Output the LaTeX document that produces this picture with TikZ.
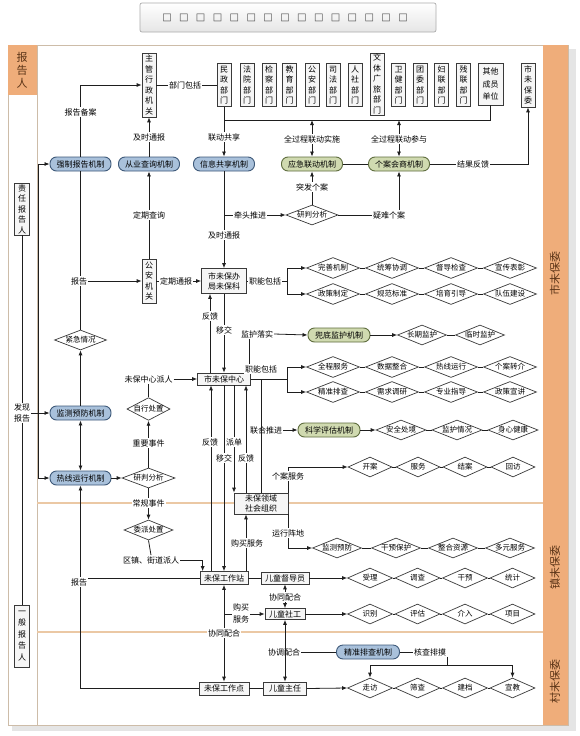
\documentclass[tikz,border=0pt]{standalone}
\usepackage{fontspec}
\setmainfont{Noto Sans CJK SC}
\newfontfamily\dejavu{DejaVu Sans}
\usetikzlibrary{arrows.meta,shapes.geometric,calc}
\definecolor{orng}{HTML}{EFAD7A}
\definecolor{orngtxt}{HTML}{5B3417}
\definecolor{bluef}{HTML}{A9C1DB}
\definecolor{blued}{HTML}{3D5878}
\definecolor{greenf}{HTML}{D0DAB0}
\definecolor{greend}{HTML}{5E6C3E}
\definecolor{sepc}{HTML}{EBC8A4}
\definecolor{bordc}{HTML}{CDBCA8}
\definecolor{linec}{HTML}{1E1E1E}
\definecolor{boxd}{HTML}{3A3A3A}
\begin{document}
\begin{tikzpicture}[x=1pt,y=-1pt,
  vb/.style={draw=boxd, fill=gray!7, line width=0.7pt, inner sep=0pt, align=center, minimum width=14pt, font=\fontsize{8}{10.5}\selectfont},
  hb/.style={draw=boxd, fill=gray!7, line width=0.7pt, inner sep=0pt, align=center, font=\fontsize{8}{10}\selectfont},
  mechb/.style={rounded corners=6.5pt, draw=blued, fill=bluef, line width=0.9pt, minimum width=61pt, minimum height=14pt, inner sep=0pt, font=\fontsize{8}{10}\selectfont},
  mechg/.style={mechb, draw=greend, fill=greenf},
  dia/.style={diamond, draw=boxd, fill=white, line width=0.7pt, aspect=2.5, inner sep=0pt, minimum width=53pt, minimum height=21pt, font=\fontsize{7.5}{9}\selectfont},
  diam/.style={dia, minimum width=49pt, minimum height=20pt},
  dias/.style={dia, minimum width=45pt, minimum height=20pt},
  lab/.style={fill=white, inner sep=1pt, align=center, font=\fontsize{8}{10}\selectfont},
  con/.style={line width=0.8pt, draw=linec},
  arr/.style={con, -{Latex[length=5pt,width=4pt]}},
  darr/.style={con, {Latex[length=5pt,width=4pt]}-{Latex[length=5pt,width=4pt]}},
]
\useasboundingbox (0,0) rectangle (580,736);
\fill[white] (0,0) rectangle (580,736);
% title
\node[draw=gray!65, line width=0.7pt, rounded corners=2pt, top color=white, bottom color=gray!20, minimum width=296pt, minimum height=29pt, inner sep=0pt] (title) at (288,17.5) {};
\foreach \i in {0,...,14} \node[font=\dejavu\fontsize{10}{10}\selectfont, text=gray!60!black, inner sep=0pt] (tb\i) at ({167+16.86*\i},17.5) {□};
% panel
\fill[black!10] (12,49) rectangle (576,731);
\filldraw[fill=white, draw=bordc, line width=0.7pt] (8,45) rectangle (568,725);
\fill[orng] (543,45) rectangle (568,725);
\fill[orng] (8,45) rectangle (37,95);
\draw[bordc, line width=0.7pt] (37,45) -- (37,725);
\draw[sepc, line width=1.6pt] (37,503) -- (543,503);
\draw[sepc, line width=1.6pt] (37,632) -- (543,632);
\node[text=orngtxt, align=center, font=\fontsize{11}{13}\selectfont] (hdr) at (22,70) {报\\告\\人};
\node[text=orngtxt, rotate=90, font=\fontsize{11}{11}\selectfont] (lv1) at (555,273) {市未保委};
\node[text=orngtxt, rotate=90, font=\fontsize{11}{11}\selectfont] (lv2) at (555,567) {镇未保委};
\node[text=orngtxt, rotate=90, font=\fontsize{11}{11}\selectfont] (lv3) at (555,681) {村未保委};
% left column
\node[vb, minimum width=15pt, minimum height=52pt] (zrb) at (22,209) {责\\任\\报\\告\\人};
\node[align=center, font=\fontsize{8}{11}\selectfont, inner sep=1pt] (fx) at (22,413) {发现\\报告};
\node[vb, minimum width=15pt, minimum height=62pt, font=\fontsize{8}{11.5}\selectfont] (yb) at (22,636) {一\\般\\报\\告\\人};
\draw[con] (zrb.south) -- (fx.north);
\draw[con] (yb.north) -- (fx.south);
% top row
\node[vb, minimum height=64pt] (zg) at (149,85) {主\\管\\行\\政\\机\\关};
\node[vb, minimum height=43pt] (mz) at (224,85) {民\\政\\部\\门};
\node[vb, minimum height=43pt] (fy) at (247,85) {法\\院\\部\\门};
\node[vb, minimum height=43pt] (jcb) at (269,85) {检\\察\\部\\门};
\node[vb, minimum height=43pt] (jy) at (289.5,85) {教\\育\\部\\门};
\node[vb, minimum height=43pt] (gab) at (312,85) {公\\安\\部\\门};
\node[vb, minimum height=43pt] (sf) at (333,85) {司\\法\\部\\门};
\node[vb, minimum height=43pt] (rs) at (355,85) {人\\社\\部\\门};
\node[vb, minimum height=62pt] (wt) at (377,84) {文\\体\\广\\旅\\部\\门};
\node[vb, minimum height=43pt] (wj) at (398.5,85) {卫\\健\\部\\门};
\node[vb, minimum height=43pt] (tw) at (420,85) {团\\委\\部\\门};
\node[vb, minimum height=43pt] (fl) at (441.5,85) {妇\\联\\部\\门};
\node[vb, minimum height=43pt] (cl) at (463.5,85) {残\\联\\部\\门};
\node[vb, minimum width=25pt, minimum height=42pt, font=\fontsize{8}{12.5}\selectfont] (qt) at (490.5,84) {其他\\成员\\单位};
\node[vb, minimum height=44pt] (swbw) at (528,85) {市\\未\\保\\委};
% mechanisms
\node[mechb] (qz) at (80.5,164) {强制报告机制};
\node[mechb] (cy) at (149,164) {从业查询机制};
\node[mechb] (xx) at (224,164) {信息共享机制};
\node[mechg] (yj) at (312,164) {应急联动机制};
\node[mechg] (ga) at (399,164) {个案会商机制};
% middle nodes
\node[dia, minimum width=52pt, minimum height=20pt] (yp1) at (312,215) {研判分析};
\node[vb, minimum height=44pt] (gaj) at (149,281) {公\\安\\机\\关};
\node[hb, minimum width=45pt, minimum height=25pt] (sb) at (224,281) {市未保办\\局未保科};
\node[dia, minimum width=52pt, minimum height=20pt] (jj) at (80.5,340) {紧急情况};
\node[mechb] (jc) at (80.5,413) {监测预防机制};
\node[mechb] (rx) at (80.5,478) {热线运行机制};
\node[dia, minimum width=53pt, minimum height=20pt] (yp2) at (148.5,478) {研判分析};
\node[dia, aspect=1.9, minimum width=42pt, minimum height=22pt] (zx) at (148.5,409) {自行处置};
\node[diam] (wp) at (148.5,530) {委派处置};
\node[hb, minimum width=53pt, minimum height=12pt] (sz) at (224,379) {市未保中心};
\node[hb, minimum width=54pt, minimum height=21pt] (ly) at (261,503.5) {未保领域\\社会组织};
\node[hb, minimum width=48pt, minimum height=13pt] (gzz) at (224,578) {未保工作站};
\node[hb, minimum width=48pt, minimum height=12pt] (ddy) at (285,578) {儿童督导员};
\node[hb, minimum width=40pt, minimum height=11pt] (sg) at (285,614) {儿童社工};
\node[hb, minimum width=50pt, minimum height=13pt] (gzd) at (224,688.5) {未保工作点};
\node[hb, minimum width=43pt, minimum height=13pt] (zr) at (285,688.5) {儿童主任};
\node[mechg, minimum width=62pt] (dd) at (339,335) {兜底监护机制};
\node[mechg, minimum width=62pt] (kx) at (329,430) {科学评估机制};
\node[mechb, minimum width=63pt] (jz) at (368,652) {精准排查机制};
% diamond rows
\node[dia] (a1) at (333,268) {完善机制};
\node[dia] (a2) at (392,268) {统筹协调};
\node[dia] (a3) at (451,268) {督导检查};
\node[dia] (a4) at (510,268) {宣传表彰};
\node[dia] (b1) at (333,294) {政策制定};
\node[dia] (b2) at (392,294) {规范标准};
\node[dia] (b3) at (451,294) {培育引导};
\node[dia] (b4) at (510,294) {队伍建设};
\node[diam] (e1) at (422,335) {长期监护};
\node[diam] (e2) at (480,335) {临时监护};
\node[dia] (c1) at (333,367) {全程服务};
\node[dia] (c2) at (392,367) {数据整合};
\node[dia] (c3) at (451,367) {热线运行};
\node[dia] (c4) at (510,367) {个案转介};
\node[dia] (d1) at (333,392) {精准排查};
\node[dia] (d2) at (392,392) {需求调研};
\node[dia] (d3) at (451,392) {专业指导};
\node[dia] (d4) at (510,392) {政策宣讲};
\node[diam, minimum width=50pt] (f1) at (401,430) {安全处境};
\node[diam, minimum width=50pt] (f2) at (457,430) {监护情况};
\node[diam, minimum width=50pt] (f3) at (513,430) {身心健康};
\node[dias, minimum width=44pt] (g1) at (370,467) {开案};
\node[dias, minimum width=44pt] (g2) at (418,467) {服务};
\node[dias, minimum width=44pt] (g3) at (465,467) {结案};
\node[dias, minimum width=44pt] (g4) at (513,467) {回访};
\node[diam] (h1) at (337,548) {监测预防};
\node[diam] (h2) at (396,548) {干预保护};
\node[diam] (h3) at (453,548) {整合资源};
\node[diam] (h4) at (510,548) {多元服务};
\node[dias] (i1) at (370,578) {受理};
\node[dias] (i2) at (417.5,578) {调查};
\node[dias] (i3) at (465,578) {干预};
\node[dias] (i4) at (512.5,578) {统计};
\node[dias] (j1) at (370,614) {识别};
\node[dias] (j2) at (417.5,614) {评估};
\node[dias] (j3) at (465,614) {介入};
\node[dias] (j4) at (512.5,614) {项目};
\node[dias] (k1) at (370,688) {走访};
\node[dias] (k2) at (417.5,688) {筛查};
\node[dias] (k3) at (465,688) {建档};
\node[dias] (k4) at (512.5,688) {宣教};
\foreach \rw in {a,b,c,d,g,h,i,j,k} {
  \draw[con] (\rw1.east) -- (\rw2.west);
  \draw[con] (\rw2.east) -- (\rw3.west);
  \draw[con] (\rw3.east) -- (\rw4.west);
}
\draw[con] (e1.east) -- (e2.west);
\draw[con] (f1.east) -- (f2.west);
\draw[con] (f2.east) -- (f3.west);
% label nodes used as connector ends
\node[lab] (pr) at (148.5,379) {未保中心派人};
\node[lab] (qzj) at (151,560) {区镇、街道派人};
\node[lab] (jh) at (257,334) {监护落实};
\node[lab] (lhl) at (266,430) {联合推进};
\node[lab] (xtl) at (284,652) {协调配合};
\node[lab] (hcl) at (430,652) {核查排摸};
% connectors top
\coordinate (bus1) at (224,120);
\coordinate (bus2) at (490.5,120);
\coordinate (bus3) at (312,120);
\coordinate (bus4) at (399,120);
\draw[con] (mz.south) -- (bus1) -- (bus2) -- (qt.south);
\draw[arr] (bus1) -- (xx.north);
\draw[darr] (bus3) -- (yj.north);
\draw[darr] (bus4) -- (ga.north);
\draw[arr] (qz.north) |- (zg.west);
\draw[con] (zg.east) -- (mz.west);
\draw[arr] (cy.north) -- (zg.south);
\draw[con] (yj.east) -- (ga.west);
\draw[arr] (ga.east) -| (swbw.south);
\draw[arr] (yp1.north) -- (yj.south);
\draw[arr] (yp1.east) -| (ga.south);
\draw[arr] (xx.south) -- (sb.north);
\coordinate (qtj) at (224,215);
\draw[arr] (qtj) -- (yp1.west);
\draw[arr] (gaj.north) -- (cy.south);
\draw[arr] (gaj.east) -- (sb.west);
\draw[con] (qz.south) -- (jj.north);
\coordinate (bgj) at (80.5,281);
\draw[arr] (bgj) -- (gaj.west);
\draw[arr] (jc.north) -- (jj.south);
\draw[darr] (jc.south) -- (rx.north);
\coordinate (fxa) at (38,164);
\coordinate (fxb) at (38,478);
\draw[con] (fxa) -- (fxb);
\draw[arr] (fxa) -- (qz.west);
\draw[arr] (fx.east) -- (jc.west);
\draw[arr] (fxb) -- (rx.west);
\draw[arr] (rx.east) -- (yp2.west);
\draw[arr] (yp2.north) -- (zx.south);
\draw[con] (zx.north) -- (pr.south);
\draw[arr] (pr.east) -- (sz.west);
\draw[arr] (yp2.south) -- (wp.north);
\draw[con] (wp.south) -- (qzj.north);
\coordinate (qzt) at ([xshift=3pt]gzz.north west);
\draw[arr] (qzj.east) -| (qzt);
% branches
\coordinate (brA) at (287,281);
\draw[con] (sb.east) -- (brA);
\draw[arr] (brA) |- (a1.west);
\draw[arr] (brA) |- (b1.west);
\coordinate (brC) at (287,379);
\draw[con] (sz.east) -- (brC);
\draw[arr] (brC) |- (c1.west);
\draw[arr] (brC) |- (d1.west);
% sb - sz
\draw[arr] (sb.south) -- (sz.north);
\coordinate (fk0) at ([xshift=-14pt]sz.north);
\draw[arr] (fk0) -- (fk0 |- sb.south);
\coordinate (jhb) at ([xshift=25pt]sz.north);
\draw[con] (jhb) -- (jhb |- jh.south);
\draw[arr] (jh.east) -- (dd.west);
\draw[arr] (dd.east) -- (e1.west);
% sz - lower
\coordinate (fk1) at ([xshift=-13pt]gzz.north);
\draw[arr] (fk1) -- (fk1 |- sz.south);
\draw[arr] (sz.south) -- (gzz.north);
\coordinate (pd) at ([xshift=10pt]sz.south);
\draw[arr] (pd) -- (pd |- ly.north);
\coordinate (fk2) at ([xshift=22pt]sz.south);
\draw[arr] (fk2 |- ly.north) -- (fk2);
\coordinate (lh0) at (ly.north |- sz.east);
\draw[con] (lh0) -- (ly.north);
\draw[arr] (lhl.east) -- (kx.west);
\draw[arr] (kx.east) -- (f1.west);
\draw[arr] (ly.north east) |- (g1.west);
\draw[arr] (ly.south east) |- (h1.west);
\coordinate (gm) at ([xshift=22pt]gzz.north);
\draw[arr] (gm) -- (gm |- ly.south);
\draw[con] (gzz.east) -- (ddy.west);
\draw[arr] (ddy.east) -- (i1.west);
\draw[darr] (ddy.south) -- (sg.north);
\draw[arr] (sg.east) -- (j1.west);
\draw[darr] (gzz.south) -- (gzd.north);
\coordinate (gm2) at (gzz.south |- sg.west);
\draw[arr] (gm2) -- (sg.west);
\draw[con] (gzd.east) -- (zr.west);
\draw[arr] (zr.east) -- (k1.west);
\draw[darr] (sg.south) -- (zr.north);
\draw[con] (xtl.east) -- (jz.west);
\draw[con] (jz.east) -- (hcl.west);
\coordinate (hbL) at ($(k1.north)+(0,-12)$);
\coordinate (hbR) at ($(k4.north)+(0,-12)$);
\coordinate (hbM) at (hcl.south east |- hbL);
\draw[con] (hcl.south east) -- (hbM);
\draw[con] (hbL) -- (hbR);
\draw[arr] (hbL) -- (k1.north);
\draw[arr] (hbR) -- (k4.north);
\coordinate (bgj2) at (gzz.west -| rx.south);
\draw[con] (gzz.west) -- (bgj2);
\draw[arr] (gzd.west) -| (rx.south);
% edge labels
\node[lab] (l1) at (80.5,112) {报告备案};
\node[lab] (l2) at (185,85) {部门包括};
\node[lab] (l3) at (149,137) {及时通报};
\node[lab] (l4) at (224,137) {联动共享};
\node[lab] (l5) at (312,139) {全过程联动实施};
\node[lab] (l6) at (399,139) {全过程联动参与};
\node[lab] (l7) at (473,164) {结果反馈};
\node[lab] (l8) at (312,187) {突发个案};
\node[lab] (l9) at (250,215) {牵头推进};
\node[lab] (l10) at (389,215) {疑难个案};
\node[lab] (l11) at (149,215) {定期查询};
\node[lab] (l12) at (224,235) {及时通报};
\node[lab] (l13) at (79,281) {报告};
\node[lab] (l14) at (176,281) {定期通报};
\node[lab] (l15) at (265,281) {职能包括};
\node[lab] (l16) at (210,316) {反馈};
\node[lab] (l17) at (224,330) {移交};
\node[lab] (l18) at (261,369) {职能包括};
\node[lab] (l19) at (148.5,443) {重要事件};
\node[lab] (l20) at (210,442) {反馈};
\node[lab] (l21) at (234,442) {派单};
\node[lab] (l22) at (224,458) {移交};
\node[lab] (l23) at (246,458) {反馈};
\node[lab] (l24) at (288,476) {个案服务};
\node[lab] (l25) at (148.5,503) {常规事件};
\node[lab] (l26) at (288,533) {运行阵地};
\node[lab] (l27) at (247,543) {购买服务};
\node[lab] (l28) at (79,582) {报告};
\node[lab] (l29) at (285,597) {协同配合};
\node[lab, font=\fontsize{8}{12}\selectfont] (l30) at (241,613) {购买\\服务};
\node[lab] (l31) at (224,633) {协同配合};
\end{tikzpicture}
\end{document}
